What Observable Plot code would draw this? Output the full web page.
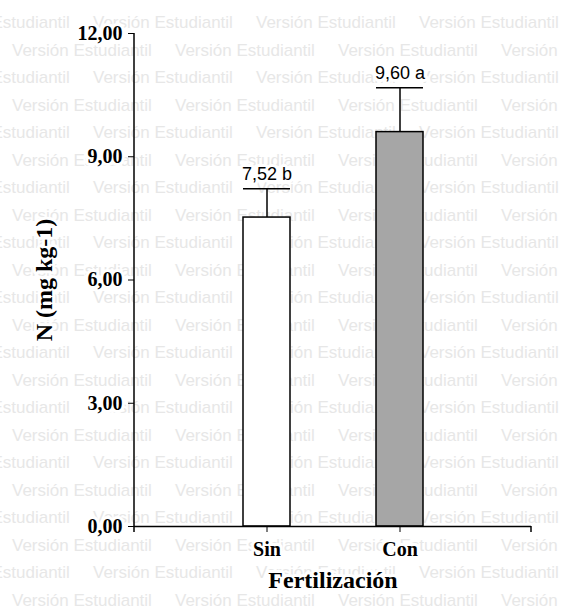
<!DOCTYPE html>
<html>
<head>
<meta charset="utf-8">
<script src="https://cdn.jsdelivr.net/npm/d3@7"></script>
<script src="https://cdn.jsdelivr.net/npm/@observablehq/plot@0.6"></script>
<style>
  html, body { margin: 0; padding: 0; background: #fff; }
  #wrap { position: relative; width: 563px; height: 610px; overflow: hidden; }
  #marca { position: absolute; left: 0; top: 0; width: 563px; height: 610px;
           font-family: "Liberation Sans", Arial, sans-serif; font-size: 17px; color: #e7e7e7; }
  #marca div { position: absolute; white-space: nowrap; line-height: 27.5px; }
  #marca span { display: inline-block; width: 163px; }
  #chart { position: absolute; left: 0; top: 0; }
  #chart svg text { paint-order: stroke; stroke: #fff; stroke-width: 6px; stroke-linejoin: round; }
</style>
</head>
<body>
<div id="wrap"><div id="marca"></div><div id="chart"></div></div>
<script>
// Tratamientos de fertilización y N medido (mg kg-1)
const tratamientos = ["Sin", "Con"];
const nitrogeno = [7.52, 9.60];
const errores = [0.70, 1.08];
const letras = ["b", "a"];
const colores = ["#ffffff", "#a6a6a6"];
const ticksY = [0, 3, 6, 9, 12];
const tituloX = "Fertilización";
const tituloY = "N (mg kg-1)";
const marcaAgua = "Versión Estudiantil";

// Marca de agua de fondo
const marca = document.getElementById("marca");
for (let k = 0; k < 23; k++) {
  const fila = document.createElement("div");
  fila.style.top = (9 + 27.5 * k) + "px";
  fila.style.left = (k % 2 === 0 ? -70 : 12) + "px";
  for (let j = 0; j < 5; j++) {
    const s = document.createElement("span");
    s.textContent = marcaAgua;
    fila.appendChild(s);
  }
  marca.appendChild(fila);
}

const fmt = d3.formatLocale({decimal: ",", thousands: ".", grouping: [3], currency: ["", ""]}).format(".2f");

const datos = tratamientos.map((t, i) => ({
  t,
  n: nitrogeno[i],
  sup: nitrogeno[i] + errores[i],
  etiqueta: fmt(nitrogeno[i]) + " " + letras[i],
  color: colores[i]
}));

const serif = "'Liberation Serif', 'Times New Roman', serif";

const chart = Plot.plot({
  width: 563,
  height: 610,
  marginLeft: 134,
  marginRight: 32,
  marginTop: 33,
  marginBottom: 84,
  style: {
    background: "transparent",
    fontFamily: serif,
    fontSize: "20px",
    fontWeight: "bold",
    color: "black"
  },
  x: {
    domain: tratamientos,
    paddingInner: 0.65,
    paddingOuter: 0.808,
    label: null,
    tickSize: 6,
    tickPadding: 9
  },
  y: {
    domain: [0, 12],
    ticks: ticksY,
    tickFormat: fmt,
    tickSize: 6,
    tickPadding: 6,
    label: null
  },
  marks: [
    Plot.ruleX(datos, {x: "t", y1: "n", y2: "sup", stroke: "black", strokeWidth: 1.5}),
    Plot.tickY(datos, {x: "t", y: "sup", stroke: "black", strokeWidth: 1.5}),
    Plot.barY(datos, {x: "t", y: "n", fill: "color", stroke: "black", strokeWidth: 1.5}),
    Plot.ruleY([0], {stroke: "black", strokeWidth: 1.5}),
    Plot.text(datos, {
      x: "t", y: "sup", text: "etiqueta", dy: -9, lineAnchor: "bottom",
      fontFamily: "'Liberation Sans', Arial, sans-serif", fontSize: 18, fontWeight: "normal",
      fill: "black"
    }),
    // Títulos de los ejes
    Plot.text([tituloX], {
      frameAnchor: "bottom", dy: 54, lineAnchor: "middle", textAnchor: "middle",
      fontFamily: serif, fontSize: 24, fontWeight: "bold", fill: "black"
    }),
    Plot.text([tituloY], {
      frameAnchor: "left", dx: -90, rotate: -90, lineAnchor: "middle", textAnchor: "middle",
      fontFamily: serif, fontSize: 24, fontWeight: "bold", fill: "black"
    })
  ]
});

document.getElementById("chart").appendChild(chart);

// Línea del eje vertical y marca final del eje X
const xr = chart.scale("x").range;
const y0 = chart.scale("y").apply(0);
const yTop = chart.scale("y").apply(12);
const g = d3.select(chart).append("g").attr("stroke", "black").attr("stroke-width", 1.5);
g.append("line").attr("x1", xr[0]).attr("x2", xr[0]).attr("y1", yTop).attr("y2", y0 + 6);
g.append("line").attr("x1", xr[1]).attr("x2", xr[1]).attr("y1", y0).attr("y2", y0 + 6);
</script>
</body>
</html>
